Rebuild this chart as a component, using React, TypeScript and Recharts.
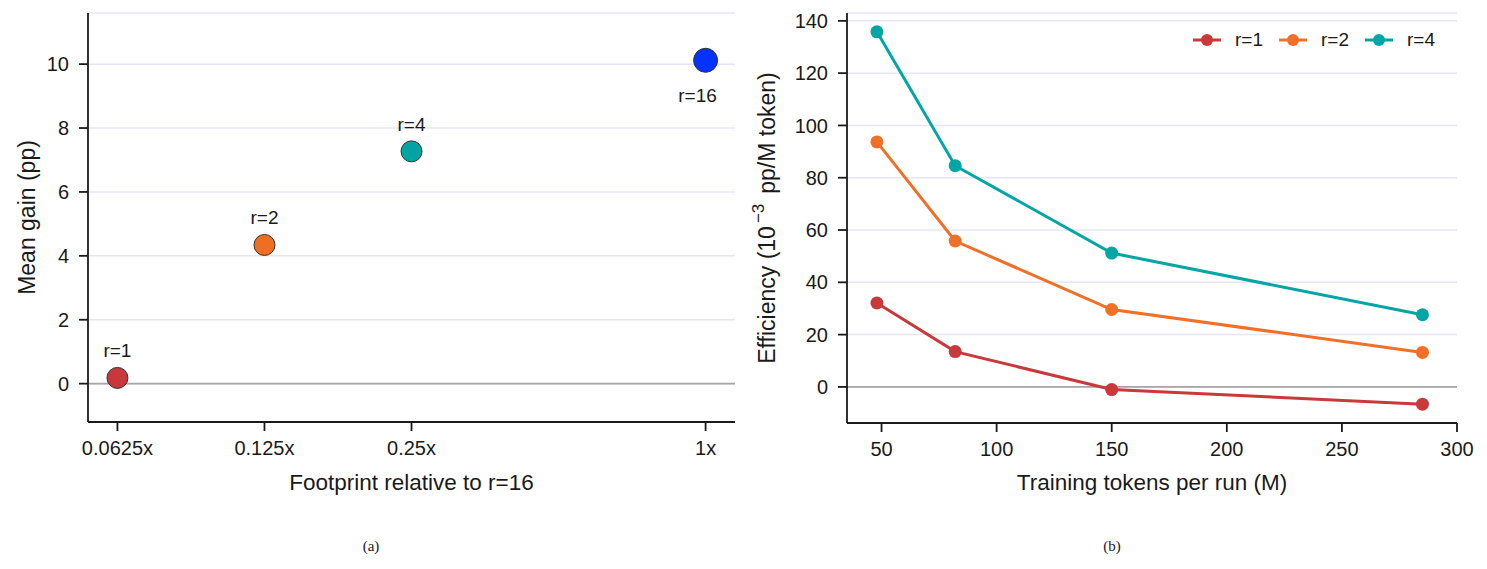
import React from 'react';
import {
  ScatterChart,
  Scatter,
  LineChart,
  Line,
  XAxis,
  YAxis,
  CartesianGrid,
  ReferenceLine,
  Legend,
  Cell,
} from 'recharts';

// (a) mean gain vs footprint
const ranks = ['r=1', 'r=2', 'r=4', 'r=16'];
const footprint = [0.0625, 0.125, 0.25, 1];
const meanGain = [0.18, 4.34, 7.27, 10.12];
const footprintTicks = [0.0625, 0.125, 0.25, 1];
const gainTicks = [0, 2, 4, 6, 8, 10];

// (b) efficiency vs training tokens
const tokens = [48, 82, 150, 285];
const effR1 = [32.1, 13.5, -1.0, -6.6];
const effR2 = [93.7, 55.8, 29.6, 13.2];
const effR4 = [135.8, 84.6, 51.2, 27.6];
const tokenTicks = [50, 100, 150, 200, 250, 300];
const effTicks = [0, 20, 40, 60, 80, 100, 120, 140];

const pointColors = ['#c8373b', '#f06e23', '#02a3a3', '#0433ff'];
const lineSeries = [
  { key: 'r1', name: 'r=1', color: '#c9393c' },
  { key: 'r2', name: 'r=2', color: '#f07027' },
  { key: 'r4', name: 'r=4', color: '#04a5a5' },
];

const scatterData = ranks.map((name, i) => ({ name, footprint: footprint[i], gain: meanGain[i] }));
const lineData = tokens.map((t, i) => ({ tokens: t, r1: effR1[i], r2: effR2[i], r4: effR4[i] }));

const FONT = '"Liberation Sans", Arial, sans-serif';
const INK = '#1a1a1a';
const GRID = '#e6e6f8';
const axisStyle = { stroke: INK, strokeWidth: 1.8 };
const tickStyle = { fill: INK, fontSize: 20, fontFamily: FONT };

const xLabel = (text: string) => (props: any) => {
  const vb = props.viewBox;
  return (
    <text x={vb.x + vb.width / 2} y={482} textAnchor='middle' dominantBaseline='central'
      fontSize={22.5} fontFamily={FONT} fill={INK}>{text}</text>
  );
};

const PointShape = (props: any) => {
  const { cx, cy, fill, payload } = props;
  const big = payload.name === 'r=16';
  return (
    <g>
      <circle cx={cx} cy={cy} r={big ? 12 : 10.5} fill={fill} stroke='#333' strokeWidth={1} />
      <text x={big ? cx - 8 : cx} y={big ? cy + 35 : cy - 27} textAnchor='middle' dominantBaseline='central'
        fontSize={19} fontFamily={FONT} fill={INK}>{payload.name}</text>
    </g>
  );
};

const renderLegend = () => (
  <div style={{ display: 'flex', alignItems: 'center', fontSize: 19, fontFamily: FONT, color: INK, lineHeight: '22px' }}>
    {lineSeries.map((s) => (
      <div key={s.key} style={{ display: 'flex', alignItems: 'center', marginRight: 16 }}>
        <svg width={28} height={14}>
          <line x1={0} y1={7} x2={28} y2={7} stroke={s.color} strokeWidth={3} />
          <circle cx={14} cy={7} r={6} fill={s.color} />
        </svg>
        <span style={{ marginLeft: 14 }}>{s.name}</span>
      </div>
    ))}
  </div>
);

const App = () => {
  return (
    <div style={{ position: 'absolute', left: 0, top: 0, width: 1487, height: 569, background: '#fff' }}>
      <div style={{ position: 'absolute', left: 0, top: 0 }}>
        <ScatterChart width={745} height={569} margin={{ top: 13, right: 10, bottom: 0, left: 0 }}>
          <CartesianGrid vertical={false} stroke={GRID} strokeWidth={1.5} />
          <XAxis type='number' dataKey='footprint' scale='log' domain={[0.0544, 1.1487]} allowDataOverflow
            ticks={footprintTicks} tickFormatter={(v) => `${v}x`} height={147}
            axisLine={axisStyle} tickLine={axisStyle} tickSize={9} tickMargin={10} tick={tickStyle}
            label={{ content: xLabel('Footprint relative to r=16') }} />
          <YAxis type='number' dataKey='gain' domain={[-1.2, 11.6]} ticks={gainTicks} width={88}
            axisLine={axisStyle} tickLine={axisStyle} tickSize={9} tickMargin={10} tick={tickStyle}
            label={{
              content: (p: any) => (
                <text transform={`translate(27, ${p.viewBox.y + p.viewBox.height / 2}) rotate(-90)`}
                  textAnchor='middle' dominantBaseline='central' fontSize={23} fontFamily={FONT} fill={INK}>
                  Mean gain (pp)
                </text>
              ),
            }} />
          <ReferenceLine y={0} stroke='#a6a6a6' strokeWidth={1.6} />
          <Scatter data={scatterData} shape={PointShape} isAnimationActive={false}>
            {scatterData.map((d, i) => (
              <Cell key={d.name} fill={pointColors[i]} />
            ))}
          </Scatter>
        </ScatterChart>
      </div>

      <div style={{ position: 'absolute', left: 745, top: 0 }}>
        <LineChart width={742} height={569} data={lineData} margin={{ top: 13, right: 30, bottom: 0, left: 0 }}>
          <CartesianGrid vertical={false} stroke={GRID} strokeWidth={1.5} />
          <XAxis type='number' dataKey='tokens' domain={[35, 300]} allowDataOverflow ticks={tokenTicks} height={146}
            axisLine={axisStyle} tickLine={axisStyle} tickSize={9} tickMargin={10} tick={tickStyle}
            label={{ content: xLabel('Training tokens per run (M)') }} />
          <YAxis type='number' domain={[-13.8, 143]} allowDataOverflow ticks={effTicks} width={102}
            axisLine={axisStyle} tickLine={axisStyle} tickSize={9} tickMargin={10} tick={tickStyle}
            label={{
              content: (p: any) => (
                <text transform={`translate(22, ${p.viewBox.y + p.viewBox.height / 2}) rotate(-90)`}
                  textAnchor='middle' dominantBaseline='central' fontSize={23} fontFamily={FONT} fill={INK}>
                  Efficiency (10<tspan dx={3} dy={-9} fontSize={17}>−3</tspan>
                  <tspan dx={10} dy={9}>pp/M token)</tspan>
                </text>
              ),
            }} />
          <ReferenceLine y={0} stroke='#a6a6a6' strokeWidth={1.6} />
          <Legend content={renderLegend} layout='horizontal' verticalAlign='middle' align='center'
            wrapperStyle={{ top: 29, left: 448, width: 'auto' }} />
          {lineSeries.map((s) => (
            <Line key={s.key} type='linear' dataKey={s.key} name={s.name} stroke={s.color} strokeWidth={3}
              dot={{ r: 6.5, fill: s.color, stroke: s.color, strokeWidth: 0 }} activeDot={false}
              isAnimationActive={false} />
          ))}
        </LineChart>
      </div>

      <div style={{ position: 'absolute', left: 371, top: 546, transform: 'translate(-50%, -50%)',
        fontFamily: '"Liberation Serif", serif', fontSize: 15, color: INK }}>(a)</div>
      <div style={{ position: 'absolute', left: 1112, top: 546, transform: 'translate(-50%, -50%)',
        fontFamily: '"Liberation Serif", serif', fontSize: 15, color: INK }}>(b)</div>
    </div>
  );
};

export default App;
